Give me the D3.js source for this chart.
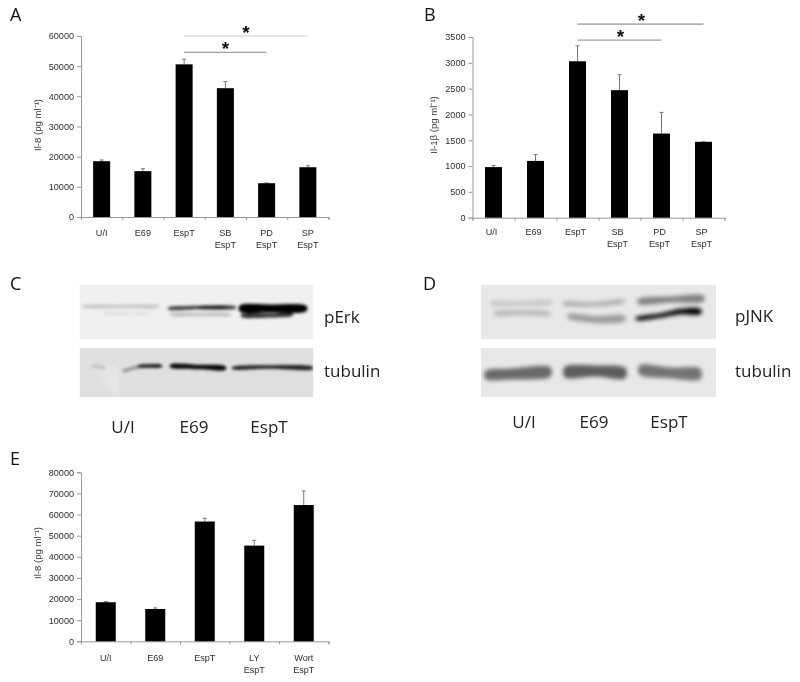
<!DOCTYPE html>
<html>
<head>
<meta charset="utf-8">
<script src="https://cdn.jsdelivr.net/npm/d3@7"></script>
<style>
html, body { margin: 0; padding: 0; background: #fff; }
svg { display: block; }
.tick-text { font-family: "Liberation Sans", Arial, sans-serif; font-size: 9.1px; fill: #2e2e2e; }
.title-text { font-family: "Liberation Sans", Arial, sans-serif; font-size: 9.6px; fill: #3a3a3a; }
.big-text { font-family: "Open Sans", sans-serif; font-size: 17px; fill: #222; }
.panel-text { font-family: "Open Sans", sans-serif; font-size: 18px; fill: #111; }
</style>
</head>
<body>
<div id="chart"></div>
<script>
// bar panels
var catsA = [["U/I"], ["E69"], ["EspT"], ["SB", "EspT"], ["PD", "EspT"], ["SP", "EspT"]];
var valuesA = [18500, 15200, 50600, 42700, 11200, 16500];
var errTopsA = [18900, 16000, 52300, 44900, 11300, 17000];
var ticksA = [0, 10000, 20000, 30000, 40000, 50000, 60000];

var catsB = catsA;
var valuesB = [980, 1100, 3030, 2470, 1630, 1470];
var errTopsB = [1010, 1225, 3330, 2770, 2040, 1470];
var ticksB = [0, 500, 1000, 1500, 2000, 2500, 3000, 3500];

var catsE = [["U/I"], ["E69"], ["EspT"], ["LY", "EspT"], ["Wort", "EspT"]];
var valuesE = [18500, 15300, 56700, 45300, 64500];
var errTopsE = [18800, 15800, 58200, 47800, 71200];
var ticksE = [0, 10000, 20000, 30000, 40000, 50000, 60000, 70000, 80000];

// significance lines: [from category, to category, level, colour]
var sigA = [[2, 5, 60000, "#ccc"], [2, 4, 54600, "#888"]];
var sigB = [[2, 5, 3750, "#777"], [2, 4, 3440, "#888"]];

// blot bands: [darkness, [gel x, gel y, thickness], ...]
var bandsErk = [
    [0.17, [5, 22, 3], [40, 22, 3.5], [78, 22, 3]],
    [0.06, [25, 29, 3], [50, 29, 3.5], [70, 29, 3]],
    [0.72, [90, 24, 3], [120, 23, 3.5], [155, 23, 3]],
    [0.6, [120, 23, 2.5], [135, 23, 3.5], [146, 23, 2.5]],
    [0.2, [92, 30, 3], [120, 30, 3.5], [150, 30, 3]],
    [1, [161, 24, 7], [190, 24, 8], [226, 24, 6.5]],
    [0.78, [163, 31, 4], [190, 31, 4], [212, 30, 3.5]]
];
var bandsErkTub = [
    [0.17, [13, 18, 3], [18, 18.5, 4], [25, 20, 3]],
    [0.33, [44, 23, 3], [54, 20, 3.5], [62, 18.5, 3.5]],
    [0.9, [60, 18, 2.5], [70, 18, 3.5], [81, 18, 3]],
    [0.97, [92, 18, 4], [120, 19, 4.5], [145, 20, 4.5]],
    [0.85, [154, 20, 3], [190, 19, 3.5], [232, 20, 3.5]]
];
var bandsJnk = [
    [0.15, [10, 19, 4], [40, 19, 4.5], [70, 18, 4]],
    [0.2, [14, 29, 4.5], [40, 28, 5], [68, 29, 4.5]],
    [0.25, [83, 19, 4], [110, 20, 4], [142, 17, 4]],
    [0.33, [88, 32, 5], [115, 35, 7], [143, 34, 6]],
    [0.45, [158, 17, 5.5], [190, 15, 6], [222, 14, 6.5]],
    [1, [156, 34, 3.5], [180, 31, 4.5], [200, 27, 5.5], [219, 27, 6]]
];
var bandsJnkTub = [
    [0.55, [5, 27, 9], [30, 26, 11], [69, 24, 10]],
    [0.6, [84, 24, 11], [115, 23, 11], [144, 25, 11]],
    [0.5, [159, 22, 10], [190, 25, 11], [219, 26, 11]]
];
var smearErk = [[24, 18, 12], [30, 26, 9], [34, 38, 6], [36, 46, 3]];

var width = 800, height = 682;
var svg = d3.select("#chart").append("svg").attr("width", width).attr("height", height);
var defs = svg.append("defs");
defs.append("filter").attr("id", "soft").append("feGaussianBlur").attr("stdDeviation", 0.3);
[["bandC", 1.4], ["bandD", 2]].forEach(function(f) {
    defs.append("filter").attr("id", f[0])
        .attr("x", "-10%").attr("y", "-60%").attr("width", "120%").attr("height", "220%")
        .append("feGaussianBlur").attr("stdDeviation", f[1]);
});

function drawBars(opt) {
    var g = svg.append("g").attr("filter", "url(#soft)");
    var x = d3.scaleBand().domain(d3.range(opt.cats.length)).range([opt.left, opt.right]);
    var xEdge = d3.scaleLinear().domain([0, opt.cats.length]).range([opt.left, opt.right]);
    var y = d3.scaleLinear().domain([0, opt.max]).range([opt.bottom, opt.top]);

    var yAxis = g.append("g").attr("transform", "translate(" + opt.left + ",0)")
        .call(d3.axisLeft(y).tickValues(opt.ticks).tickSize(4).tickPadding(3).tickFormat(d3.format("d")));
    var xAxis = g.append("g").attr("transform", "translate(0," + opt.bottom + ")")
        .call(d3.axisBottom(xEdge).tickValues(d3.range(opt.cats.length + 1)).tickSize(3).tickFormat(""));
    g.selectAll(".domain").attr("stroke", "#999").attr("stroke-width", 1);
    g.selectAll(".tick line").attr("stroke", "#999");
    yAxis.selectAll("text").attr("class", "tick-text");
    yAxis.attr("font-family", null).attr("font-size", null);
    xAxis.attr("font-family", null).attr("font-size", null);

    var bars = g.selectAll(".bar").data(opt.values).enter().append("g");
    bars.append("line")
        .attr("x1", function(d, i) { return x(i) + x.bandwidth() / 2; })
        .attr("x2", function(d, i) { return x(i) + x.bandwidth() / 2; })
        .attr("y1", function(d) { return y(d); })
        .attr("y2", function(d, i) { return y(opt.errTops[i]); })
        .attr("stroke", "#777");
    bars.append("line")
        .attr("x1", function(d, i) { return x(i) + x.bandwidth() / 2 - 2; })
        .attr("x2", function(d, i) { return x(i) + x.bandwidth() / 2 + 2; })
        .attr("y1", function(d, i) { return y(opt.errTops[i]); })
        .attr("y2", function(d, i) { return y(opt.errTops[i]); })
        .attr("stroke", "#777");
    bars.append("rect")
        .attr("x", function(d, i) { return x(i) + (x.bandwidth() - opt.barWidth) / 2; })
        .attr("width", opt.barWidth)
        .attr("y", function(d) { return y(d); })
        .attr("height", function(d) { return opt.bottom - y(d); })
        .attr("fill", "#000");

    opt.cats.forEach(function(lines, i) {
        lines.forEach(function(txt, j) {
            g.append("text").attr("class", "tick-text")
                .attr("x", x(i) + x.bandwidth() / 2 + opt.labelShift)
                .attr("y", opt.bottom + opt.labelGap + j * 12)
                .attr("text-anchor", "middle")
                .text(txt);
        });
    });

    g.append("text").attr("class", "title-text")
        .attr("transform", "translate(" + opt.titleX + "," + opt.titleY + ") rotate(-90)")
        .attr("text-anchor", "middle")
        .text(opt.title);

    (opt.sig || []).forEach(function(s) {
        var x1 = x(s[0]) + x.bandwidth() / 2, x2 = x(s[1]) + x.bandwidth() / 2;
        g.append("line").attr("x1", x1).attr("x2", x2).attr("y1", y(s[2])).attr("y2", y(s[2]))
            .attr("stroke", s[3]).attr("stroke-width", 1);
        g.append("text").attr("x", (x1 + x2) / 2 + opt.starShift).attr("y", y(s[2]) + 3)
            .attr("text-anchor", "middle")
            .style("font-family", "Liberation Sans, sans-serif").style("font-weight", "bold")
            .style("font-size", "19px").attr("fill", "#111")
            .text("*");
    });
}

function drawBlot(left, top, w, h, bg, bands, blurId, smear) {
    var clipId = "clip" + Math.round(left) + "_" + Math.round(top);
    defs.append("clipPath").attr("id", clipId).append("rect")
        .attr("x", left).attr("y", top).attr("width", w).attr("height", h);
    var gx = d3.scaleLinear().domain([0, w]).range([left, left + w]);
    var gy = d3.scaleLinear().domain([0, h]).range([top, top + h]);
    var g = svg.append("g").attr("clip-path", "url(#" + clipId + ")");
    g.append("rect").attr("x", left).attr("y", top).attr("width", w).attr("height", h).attr("fill", bg);

    var inner = g.append("g").attr("filter", "url(#" + blurId + ")");
    var area = d3.area()
        .x(function(d) { return gx(d[0]); })
        .y0(function(d) { return gy(d[1] - d[2] / 2); })
        .y1(function(d) { return gy(d[1] + d[2] / 2); })
        .curve(d3.curveCatmullRom);

    if (smear) {
        var smearArea = d3.area()
            .x0(function(d) { return gx(d[0] - d[2]); })
            .x1(function(d) { return gx(d[0] + d[2]); })
            .y(function(d) { return gy(d[1]); })
            .curve(d3.curveCatmullRom);
        inner.append("path").attr("d", smearArea(smear)).attr("fill", "#e6e6e6");
    }
    bands.forEach(function(b) {
        var pts = b.slice(1);
        // taper the ends so bands do not finish square
        var first = pts[0], last = pts[pts.length - 1];
        var shape = [[first[0] - 2, first[1], 0.5]].concat(pts, [[last[0] + 2, last[1], 0.5]]);
        inner.append("path").attr("d", area(shape))
            .attr("fill", "#000").attr("fill-opacity", b[0]);
    });
}

drawBars({
    cats: catsA, values: valuesA, errTops: errTopsA, ticks: ticksA, max: 60000,
    left: 81, right: 328.5, top: 36, bottom: 217, barWidth: 17, labelShift: 0, labelGap: 19, starShift: 0,
    title: "Il-8 (pg ml\u207B\u00B9)", titleX: 41, titleY: 125, sig: sigA
});
drawBars({
    cats: catsB, values: valuesB, errTops: errTopsB, ticks: ticksB, max: 3500,
    left: 472.5, right: 724.5, top: 37, bottom: 217.7, barWidth: 17, labelShift: -2, labelGap: 17, starShift: 1,
    title: "Il-1\u03B2 (pg ml\u207B\u00B9)", titleX: 437, titleY: 125, sig: sigB
});
drawBars({
    cats: catsE, values: valuesE, errTops: errTopsE, ticks: ticksE, max: 80000,
    left: 81, right: 328.5, top: 472.3, bottom: 641.3, barWidth: 20, labelShift: 0, labelGap: 20, starShift: 0,
    title: "Il-8 (pg ml\u207B\u00B9)", titleX: 41, titleY: 553
});

drawBlot(79.5, 284.5, 234, 55, "#f0f0f0", bandsErk, "bandC");
drawBlot(79.5, 348, 234, 49, "#dfdfdf", bandsErkTub, "bandC", smearErk);
drawBlot(481, 284.5, 235, 55, "#e8e8e8", bandsJnk, "bandD");
drawBlot(481, 348, 235, 49, "#e8e8e8", bandsJnkTub, "bandD");

var bigLabels = [
    ["pErk", 324, 323, "start"], ["tubulin", 324, 377, "start"],
    ["pJNK", 735, 322, "start"], ["tubulin", 735, 377, "start"],
    ["U/I", 123, 433, "middle"], ["E69", 194, 433, "middle"], ["EspT", 269, 433, "middle"],
    ["U/I", 524, 428, "middle"], ["E69", 594, 428, "middle"], ["EspT", 669, 428, "middle"]
];
var panelLabels = [["A", 10, 21], ["B", 424, 21], ["C", 10, 290], ["D", 423, 290], ["E", 10, 465]];

svg.selectAll(".big").data(bigLabels).enter().append("text")
    .attr("class", "big-text")
    .attr("x", function(d) { return d[1]; })
    .attr("y", function(d) { return d[2]; })
    .attr("text-anchor", function(d) { return d[3]; })
    .text(function(d) { return d[0]; });
svg.selectAll(".panel").data(panelLabels).enter().append("text")
    .attr("class", "panel-text")
    .attr("x", function(d) { return d[1]; })
    .attr("y", function(d) { return d[2]; })
    .text(function(d) { return d[0]; });
</script>
</body>
</html>
